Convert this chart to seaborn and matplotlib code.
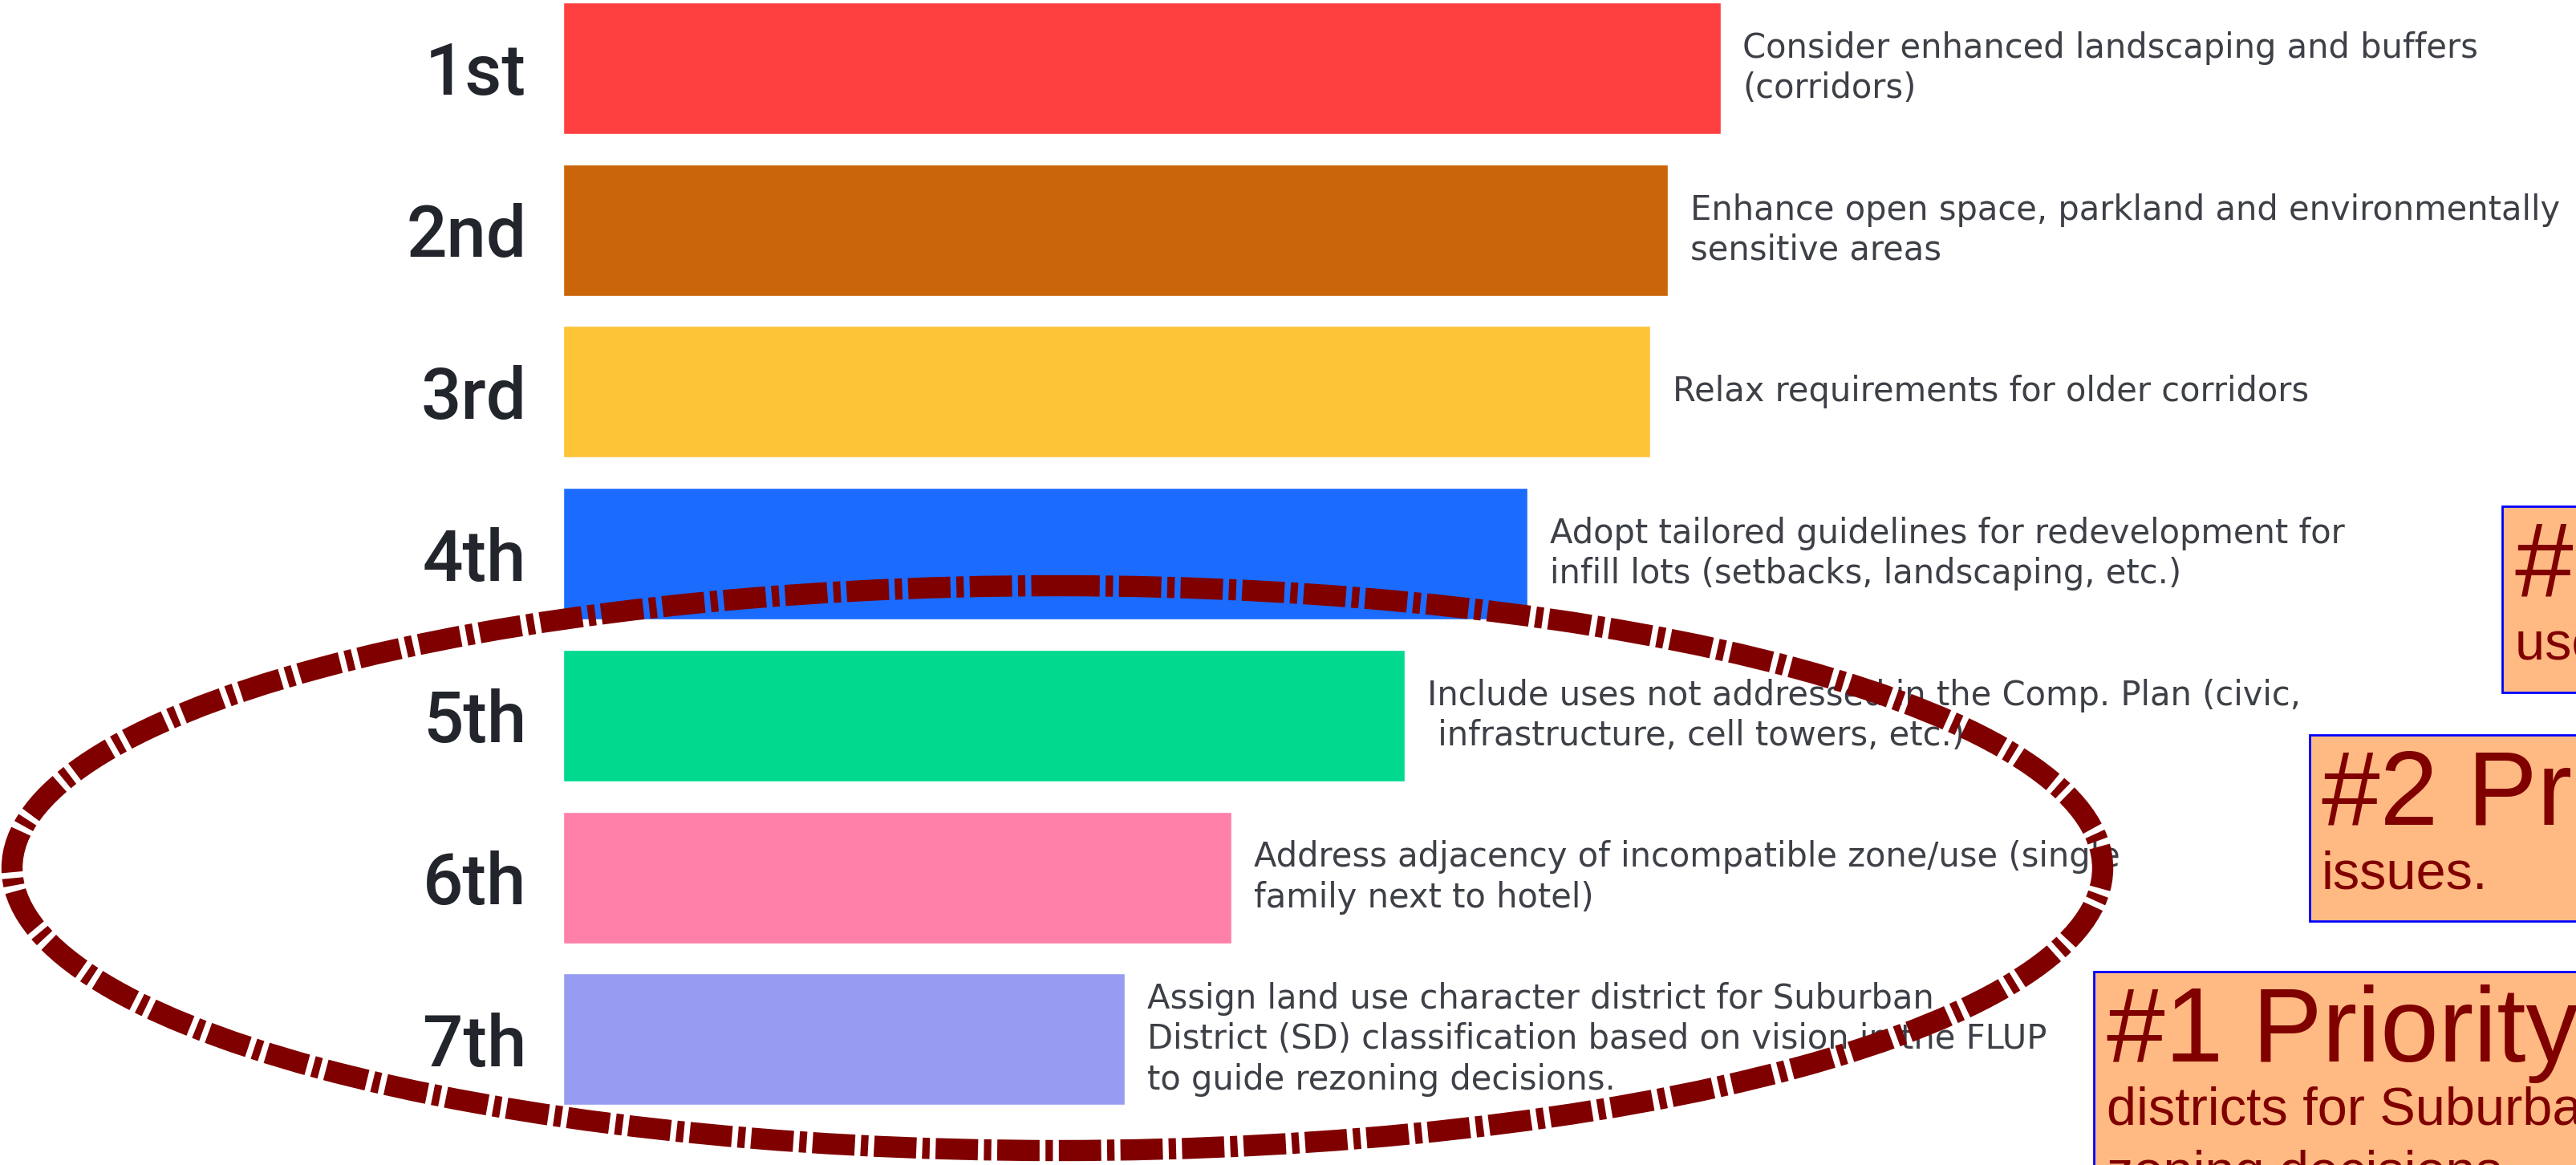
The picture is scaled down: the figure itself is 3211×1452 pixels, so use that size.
import matplotlib
matplotlib.use("Agg")
import matplotlib.pyplot as plt
from matplotlib.patches import Ellipse, Rectangle
import seaborn as sns

# ranking results (bar length = relative score)
ranks = ["1st", "2nd", "3rd", "4th", "5th", "6th", "7th"]
scores = [5.75, 5.49, 5.40, 4.79, 4.18, 3.32, 2.79]
bar_colors = ["#FF4040", "#CB6509", "#FDC438", "#1B6BFE",
              "#00D98E", "#FF80A8", "#979CF2"]
descriptions = [
    "Consider enhanced landscaping and buffers\n(corridors)",
    "Enhance open space, parkland and environmentally\nsensitive areas",
    "Relax requirements for older corridors",
    "Adopt tailored guidelines for redevelopment for\ninfill lots (setbacks, landscaping, etc.)",
    "Include uses not addressed in the Comp. Plan (civic,\n infrastructure, cell towers, etc.)",
    "Address adjacency of incompatible zone/use (single\nfamily next to hotel)",
    "Assign land use character district for Suburban\n"
    "District (SD) classification based on vision in the FLUP\n"
    "to guide rezoning decisions.",
]

# callout boxes on the right
priority_heads = ["#3 Priority", "#2 Priority", "#1 Priority"]
priority_bodies = [
    [": Include", "uses not addressed in the Comp. Plan."],
    [": Address adjacency of incompatible zone/use", "issues."],
    [": Assign land use character",
     "districts for Suburban District (SD) to guide re-",
     "zoning decisions."],
]

W, H = 3211, 1452
sns.set_style("white")
plt.rcParams["font.family"] = ["Liberation Sans", "DejaVu Sans"]

fig = plt.figure(figsize=(W / 100, H / 100), dpi=100)
fig.patch.set_facecolor("white")

ax = fig.add_axes([702 / W, 0, 1 - 702 / W, 1])
sns.barplot(x=scores, y=ranks, hue=ranks, palette=bar_colors, legend=False,
            width=0.813, saturation=1, orient="h", ax=ax)
ax.set_xlim(0, 10)
ax.set_ylim(6.777, -0.421)
sns.despine(ax=ax, left=True, bottom=True)
ax.set_xticks([])
ax.set_xlabel("")
ax.set_ylabel("")
ax.tick_params(axis="y", length=0, pad=33, labelsize=64, labelcolor="#22252c")
for lbl in ax.get_yticklabels():
    lbl.set_fontfamily(["Roboto", "Liberation Sans"])
    lbl.set_fontweight("medium")
ax.patch.set_alpha(0)

for i, (val, desc) in enumerate(zip(scores, descriptions)):
    ax.annotate(desc, xy=(val, i), xytext=(20, 0), textcoords="offset points",
                ha="left", va="center", fontsize=30, color="#3d4047",
                family="DejaVu Sans", linespacing=1.25)

# overlay in pixel units for the hand-drawn annotations
ov = fig.add_axes([0, 0, 1, 1], zorder=5)
ov.set_xlim(0, W)
ov.set_ylim(H, 0)
ov.axis("off")
ov.patch.set_alpha(0)

ov.add_patch(Ellipse((1318, 1082), 2606, 704, fill=False, edgecolor="#800000",
                     linewidth=19, linestyle=(0, (2.0, 0.28, 0.35, 0.28)),
                     capstyle="butt"))

box_specs = [  # left, top, height, text x, head baseline
    (3119, 631, 232, 3135, 743),
    (2879, 916, 232, 2894, 1028),
    (2610, 1211, 320, 2626, 1323),
]
heads = []
for (left, top, h, tx, base), head in zip(box_specs, priority_heads):
    ov.add_patch(Rectangle((left, top), 1200, h, facecolor="#FFB982",
                           edgecolor="#0000FF", linewidth=2))
    heads.append(ov.text(tx, base, head, fontsize=94, color="#800000",
                         ha="left", va="baseline"))

fig.canvas.draw()
renderer = fig.canvas.get_renderer()
for (left, top, h, tx, base), head, body in zip(box_specs, heads, priority_bodies):
    x_end = head.get_window_extent(renderer).x1
    ov.text(x_end, base, body[0], fontsize=48, color="#800000",
            ha="left", va="baseline")
    for k, line in enumerate(body[1:], start=1):
        ov.text(tx, base + 79 * k, line, fontsize=48, color="#800000",
                ha="left", va="baseline")

fig.savefig("out.png", dpi=100)
